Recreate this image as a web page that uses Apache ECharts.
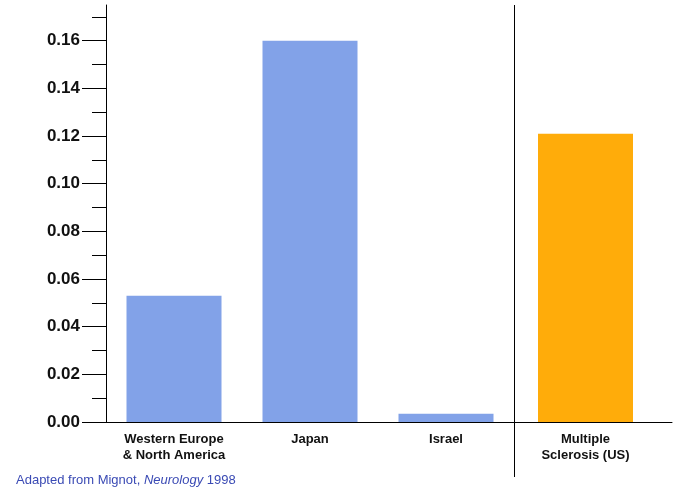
<!DOCTYPE html>
<html>
<head>
<meta charset="utf-8">
<script src="https://cdn.jsdelivr.net/npm/echarts@6/dist/echarts.min.js"></script>
<style>
html,body{margin:0;padding:0;background:#fff;}
#chart{width:674px;height:493px;}
</style>
</head>
<body>
<div id="chart"></div>
<script>
const categories = ['Western Europe\n& North America', 'Japan', 'Israel'];
const prevalence = [0.053, 0.16, 0.0035];
const msCategory = ['Multiple\nSclerosis (US)'];
const msPrevalence = [0.121];
const yTicks = [0, 0.02, 0.04, 0.06, 0.08, 0.10, 0.12, 0.14, 0.16];
const yMinorTicks = [0.01, 0.03, 0.05, 0.07, 0.09, 0.11, 0.13, 0.15, 0.17];
const sourceText = ['Adapted from Mignot, ', 'Neurology', ' 1998'];

const FONT = '"Liberation Sans", Arial, sans-serif';
const Y_MAX = 0.175;
const chart = echarts.init(document.getElementById('chart'), null, {renderer: 'canvas'});

const xLabel = {fontFamily: FONT, fontSize: 13, fontWeight: 'bold', color: '#111', margin: 9, lineHeight: 16, interval: 0};

chart.setOption({
  backgroundColor: '#ffffff',
  animation: false,
  title: {
    left: 16, top: 474, padding: 0,
    text: '{a|' + sourceText[0] + '}{b|' + sourceText[1] + '}{a|' + sourceText[2] + '}',
    textStyle: {
      fontWeight: 'normal',
      rich: {
        a: {fontFamily: FONT, fontSize: 13, fontWeight: 'normal', color: '#3A4AB4'},
        b: {fontFamily: FONT, fontSize: 13, fontWeight: 'normal', fontStyle: 'italic', color: '#3A4AB4'}
      }
    }
  },
  grid: [
    {left: 106, width: 408, top: 5, bottom: 71},
    {left: 499, right: 2, top: 5, bottom: 71}
  ],
  xAxis: [
    {
      type: 'category', gridIndex: 0, data: categories,
      axisLine: {lineStyle: {color: '#000', width: 1}},
      axisTick: {show: false},
      axisLabel: xLabel
    },
    {
      type: 'category', gridIndex: 1, data: msCategory,
      axisLine: {lineStyle: {color: '#000', width: 1}},
      axisTick: {show: false},
      axisLabel: xLabel
    }
  ],
  yAxis: [
    {
      type: 'value', gridIndex: 0, min: 0, max: Y_MAX, interval: 0.02,
      axisLine: {show: true, lineStyle: {color: '#000', width: 1}},
      axisTick: {show: true, length: 24, lineStyle: {color: '#000'}, customValues: yTicks},
      axisLabel: {
        customValues: yTicks, margin: 26,
        fontFamily: FONT, fontSize: 17, fontWeight: 'bold', color: '#111',
        formatter: v => v.toFixed(2)
      },
      splitLine: {show: false}
    },
    {
      type: 'value', gridIndex: 0, position: 'left', min: 0, max: Y_MAX, interval: 0.01,
      axisLine: {show: false},
      axisTick: {show: true, length: 14, lineStyle: {color: '#000'}, customValues: yMinorTicks},
      axisLabel: {show: false},
      splitLine: {show: false}
    },
    {
      type: 'value', gridIndex: 1, min: 0, max: Y_MAX, show: false, splitLine: {show: false}
    }
  ],
  series: [
    {
      type: 'bar', xAxisIndex: 0, yAxisIndex: 0, data: prevalence,
      barWidth: 95, itemStyle: {color: '#82A2E8'}
    },
    {
      type: 'bar', xAxisIndex: 1, yAxisIndex: 2, data: msPrevalence,
      barWidth: 95, itemStyle: {color: '#FFAC0A'}
    }
  ],
  graphic: [
    {type: 'line', shape: {x1: 514.5, y1: 5, x2: 514.5, y2: 477}, style: {stroke: '#000', lineWidth: 1}, z: 10}
  ]
});
</script>
</body>
</html>
